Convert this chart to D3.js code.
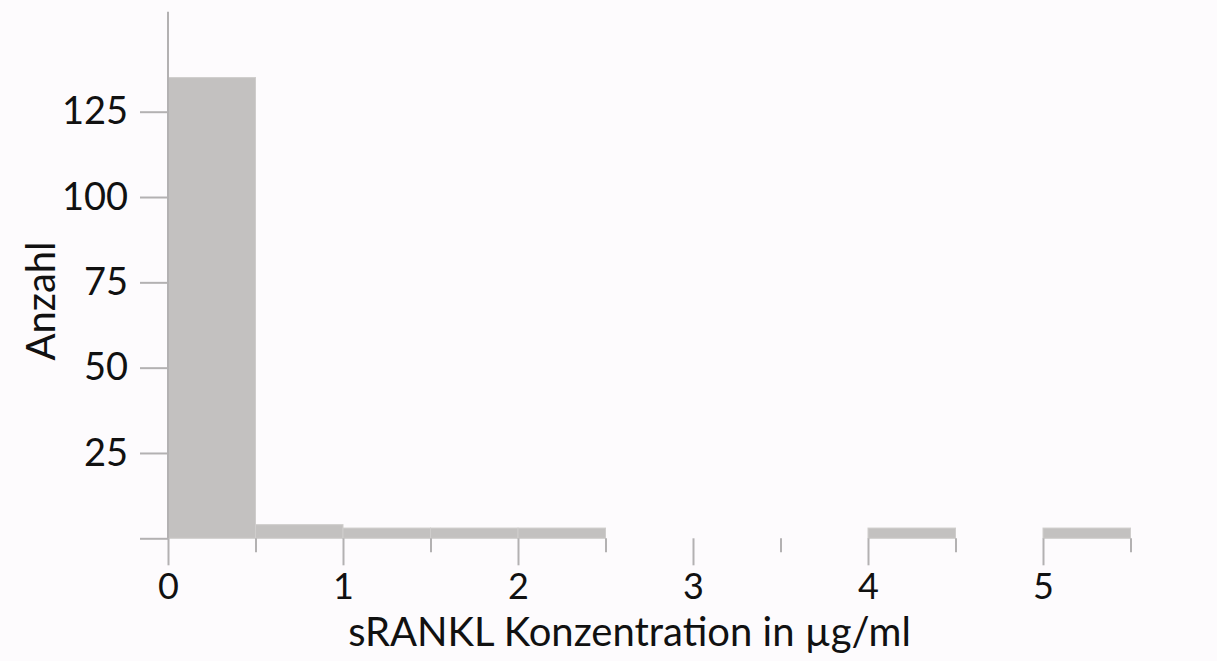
<!DOCTYPE html>
<html>
<head>
<meta charset="utf-8">
<script src="https://cdn.jsdelivr.net/npm/d3@7"></script>
<style>
  html, body { margin: 0; padding: 0; background: #fdfbfd; }
  svg { display: block; }
  text { font-family: Lato, "Open Sans", sans-serif; fill: #111; }
</style>
</head>
<body>
<svg id="chart" width="1217" height="661"></svg>
<script>
// Histogram of sRANKL concentration (bin width 0.5 µg/ml)
const binStarts = [0, 0.5, 1, 1.5, 2, 2.5, 3, 3.5, 4, 4.5, 5];
const counts    = [135, 4, 3, 3, 3, 0, 0, 0, 3, 0, 3];
const binWidth = 0.5;

const yTickValues = [0, 25, 50, 75, 100, 125];
const yTickLabels = ["", "25", "50", "75", "100", "125"];
const xMajorTicks = [0, 1, 2, 3, 4, 5];
const xMinorTicks = [0.5, 1.5, 2.5, 3.5, 4.5, 5.5];
const xTitle = "sRANKL Konzentration in µg/ml";
const yTitle = "Anzahl";

const svg = d3.select("#chart");
const plot = { left: 168, right: 1130.5, top: 11.7, bottom: 538.3 };

const x = d3.scaleLinear().domain([0, 5.5]).range([plot.left, plot.right]);
const y = d3.scaleLinear().domain([0, 154.3]).range([plot.bottom, plot.top]);

const axisColor = "#b3b1b2";
const barColor = "#c3c1c0";
const font = "Lato, 'Open Sans', sans-serif";

// bars
const bins = binStarts.map((s, i) => ({ x0: s, x1: s + binWidth, n: counts[i] }));
svg.append("g")
  .selectAll("rect")
  .data(bins.filter(d => d.n > 0))
  .join("rect")
  .attr("x", d => x(d.x0))
  .attr("y", d => y(d.n))
  .attr("width", d => x(d.x1) - x(d.x0))
  .attr("height", d => y(0) - y(d.n))
  .attr("fill", barColor)
  .attr("stroke", "#cfcdcc")
  .attr("stroke-width", 1);

// y axis
const yAxis = d3.axisLeft(y)
  .tickValues(yTickValues)
  .tickFormat((d, i) => yTickLabels[i])
  .tickSize(26)
  .tickPadding(12);
const gy = svg.append("g")
  .attr("transform", `translate(${plot.left},0)`)
  .call(yAxis);
gy.select(".domain").remove();
gy.selectAll(".tick line").attr("stroke", axisColor).attr("stroke-width", 2).attr("x2", -28);
gy.selectAll(".tick text")
  .attr("x", -40)
  .style("font-size", "38px")
  .style("font-family", font)
  .attr("fill", "#111");
gy.append("line")
  .attr("x1", 0).attr("x2", 0)
  .attr("y1", y.range()[1]).attr("y2", y(0))
  .attr("stroke", axisColor).attr("stroke-width", 2);

// x axis: long ticks on whole numbers, short ticks on halves
const gxMajor = svg.append("g")
  .attr("transform", `translate(0,${plot.bottom})`)
  .call(d3.axisBottom(x).tickValues(xMajorTicks).tickFormat(d3.format("d")).tickSize(27).tickPadding(8));
gxMajor.select(".domain").remove();
gxMajor.selectAll(".tick line").attr("stroke", axisColor).attr("stroke-width", 2);
gxMajor.selectAll(".tick text")
  .style("font-size", "36px")
  .style("font-family", font)
  .attr("fill", "#111");

const gxMinor = svg.append("g")
  .attr("transform", `translate(0,${plot.bottom})`)
  .call(d3.axisBottom(x).tickValues(xMinorTicks).tickFormat("").tickSize(14));
gxMinor.select(".domain").remove();
gxMinor.selectAll(".tick line").attr("stroke", axisColor).attr("stroke-width", 2);

// axis titles
svg.append("text")
  .attr("x", (352 + 907) / 2)
  .attr("y", 646)
  .attr("text-anchor", "middle")
  .style("font-size", "40px")
  .text(xTitle);

svg.append("text")
  .attr("transform", `translate(55,301) rotate(-90)`)
  .attr("text-anchor", "middle")
  .style("font-size", "40px")
  .text(yTitle);
</script>
</body>
</html>
